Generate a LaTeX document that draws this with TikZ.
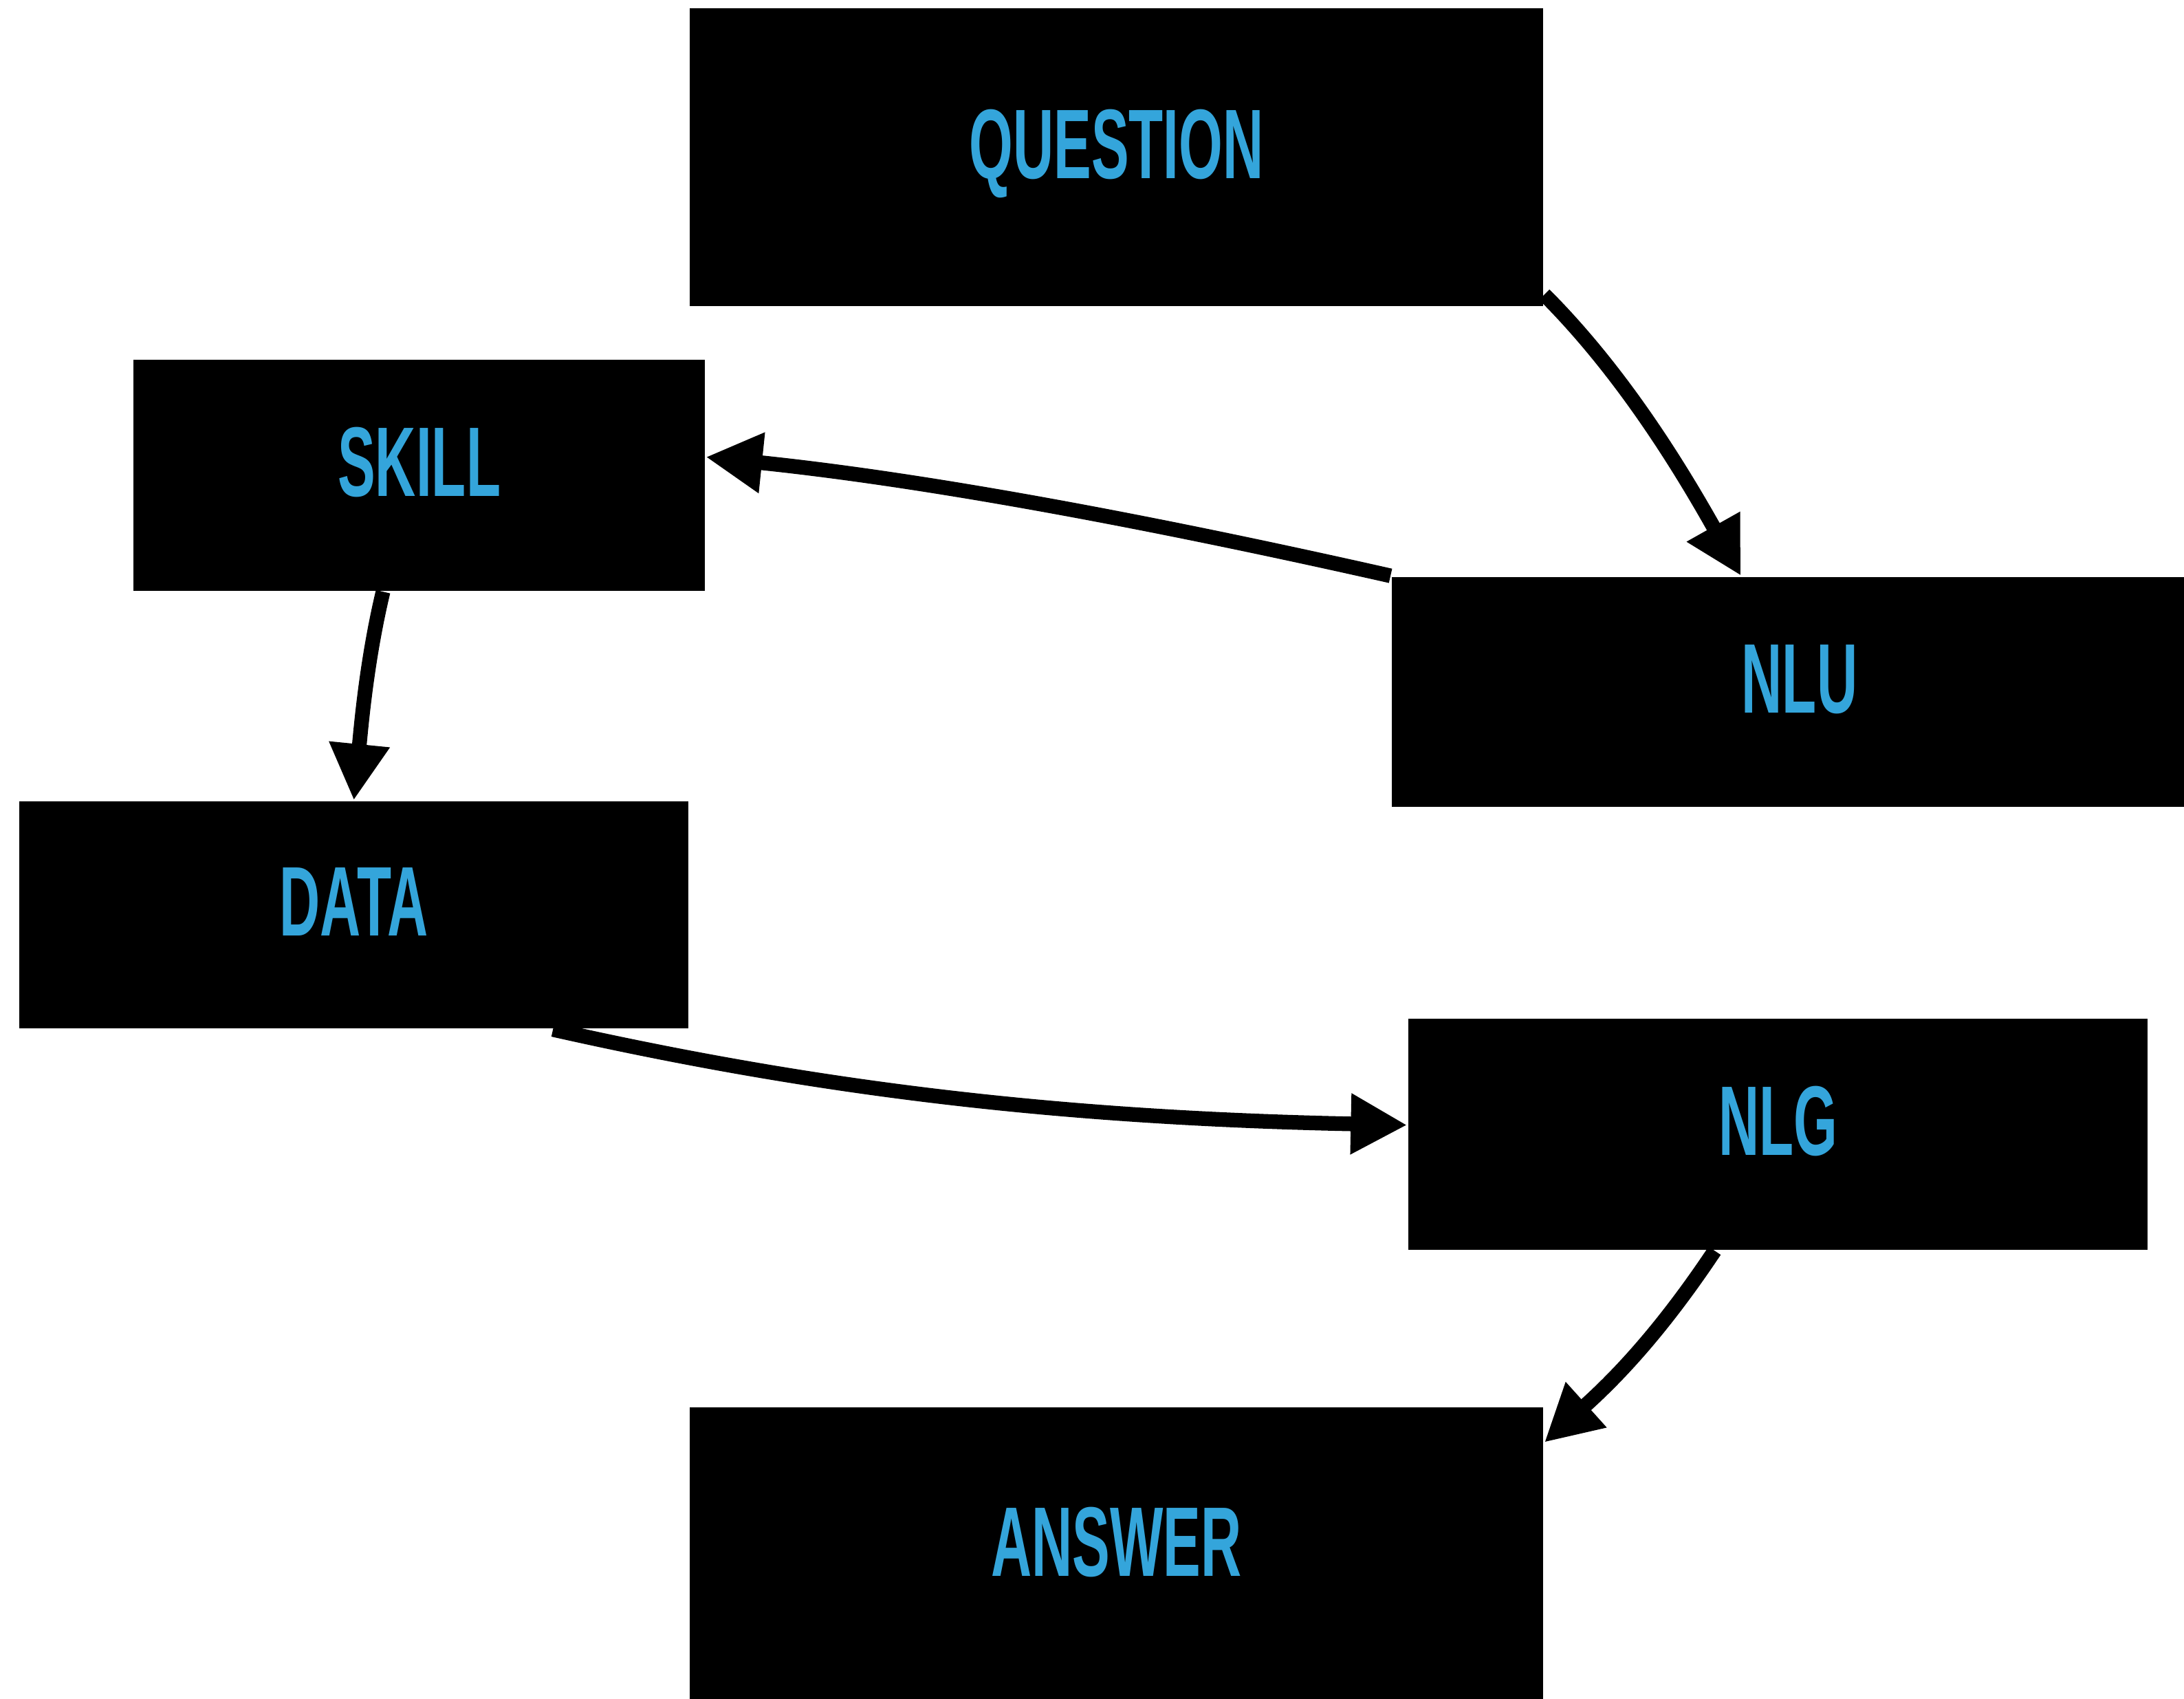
\documentclass[tikz,border=0pt]{standalone}
\usepackage{fontspec}
\usepackage{tikz}
\usetikzlibrary{arrows.meta}
\newfontfamily\boxfont{Liberation Sans}[FakeStretch=0.57]
\definecolor{labelblue}{RGB}{52,165,219}
\tikzset{
  % Box and connector styles
  box/.style={rectangle, fill=black, inner sep=0pt, text=labelblue, text height=0.51cm, text depth=0.21cm, font={\boxfont\bfseries\fontsize{20.2}{24}\selectfont}},
  arrow/.style={-{Triangle[length=0.405cm, width=0.41cm]}, line width=0.105cm},
}

\begin{document}
\begin{tikzpicture}
    \useasboundingbox (0,0) rectangle (15.68,-12.19);

    % Boxes
    \node[box, minimum width=6.13cm, minimum height=2.137cm] (question) at (8.015,-1.129) {QUESTION};
    \node[box, minimum width=4.10cm, minimum height=1.66cm] (skill) at (3.01,-3.41) {SKILL};
    \node[box, minimum width=5.86cm, minimum height=1.65cm] (nlu) at (12.92,-4.965) {NLU};
    \node[box, minimum width=4.80cm, minimum height=1.63cm] (data) at (2.54,-6.567) {DATA};
    \node[box, minimum width=5.31cm, minimum height=1.66cm] (nlg) at (12.765,-8.14) {NLG};
    \node[box, minimum width=6.13cm, minimum height=2.13cm] (answer) at (8.015,-11.165) {ANSWER};

    % Arrows
    \draw[arrow] ([yshift=0.09cm]question.south east) .. controls +(0.55,-0.55) and +(-0.45,0.8) .. ([xshift=2.516cm]nlu.north west);
    \draw[arrow] (nlu.north west) .. controls +(-1.64,0.37) and +(1.64,-0.17) .. ([yshift=0.13cm]skill.east);
    \draw[arrow] ([xshift=-0.26cm]skill.south) .. controls +(-0.12,-0.5) and +(0.05,0.5) .. (data.north);
    \draw[arrow] ([xshift=1.43cm]data.south) .. controls +(2.0,-0.45) and +(-2.4,0.05) .. ([yshift=0.065cm]nlg.west);
    \draw[arrow] ([xshift=-0.455cm]nlg.south) .. controls +(-0.4,-0.6) and +(0.5,0.45) .. ([yshift=-0.26cm]answer.north east);
\end{tikzpicture}
\end{document}
